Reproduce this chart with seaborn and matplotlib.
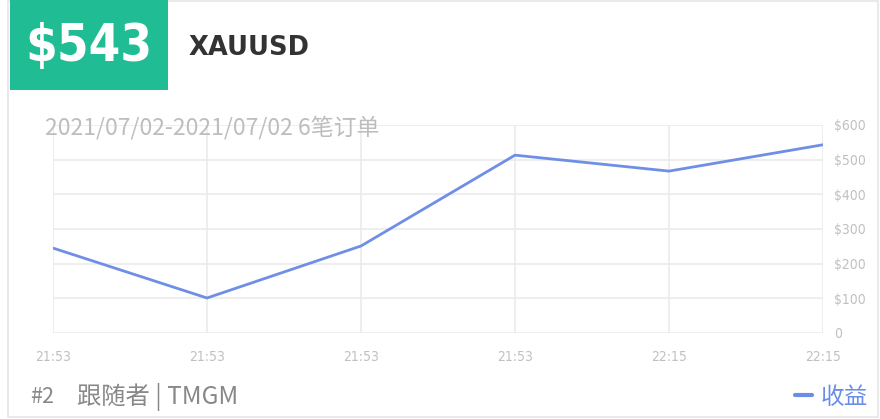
import matplotlib
matplotlib.use('Agg')
import matplotlib.pyplot as plt
import matplotlib.patches as patches
import seaborn as sns
import pandas as pd

# datos del grafico
horas = ['21:53', '21:53', '21:53', '21:53', '22:15', '22:15']
ganancia = [245, 101, 251, 513, 467, 543]
ticks_y = [0, 100, 200, 300, 400, 500, 600]
etiquetas_y = ['0', '$100', '$200', '$300', '$400', '$500', '$600']

sns.set_theme(style='white')
plt.rcParams['font.family'] = ['Noto Sans CJK SC', 'DejaVu Sans']

W, H = 880, 419
fig = plt.figure(figsize=(W / 100, H / 100), dpi=100)


def fx(px):
    return px / W


def fy(py):
    return 1 - py / H


# tarjeta
fig.patches.append(patches.Rectangle((fx(8), fy(417)), fx(870), (417 - 1) / H,
                                     transform=fig.transFigure, fill=False,
                                     edgecolor='#e6e6e6', linewidth=1.2))
fig.patches.append(patches.Rectangle((fx(10), fy(90)), fx(158), 90 / H,
                                     transform=fig.transFigure, facecolor='#20bc94',
                                     edgecolor='none'))

fig.text(fx(89), fy(47), '$543', color='white', fontsize=36.5, fontweight='bold',
         family=['DejaVu Sans'], fontstretch='condensed', ha='center', va='center')
fig.text(fx(189), fy(48), 'XAUUSD', color='#333333', fontsize=18.5, fontweight='bold',
         family=['DejaVu Sans'], ha='left', va='center')

# area del grafico
ax = fig.add_axes([fx(53), fy(333), fx(770), 208 / H])
df = pd.DataFrame({'x': range(len(horas)), 'y': ganancia})
sns.lineplot(data=df, x='x', y='y', ax=ax, color='#6f8fe6', linewidth=2)

ax.set_xlim(0, len(horas) - 1)
ax.set_ylim(0, 600)
ax.set_xticks(range(len(horas)))
ax.set_xticklabels(horas)
ax.set_yticks(ticks_y)
ax.set_yticklabels(etiquetas_y)
ax.yaxis.tick_right()
ax.set_xlabel('')
ax.set_ylabel('')
ax.grid(True, color='#ebebeb', linewidth=1.2)
for s in ax.spines.values():
    s.set_visible(False)
ax.tick_params(axis='both', length=0, colors='#c0c0c0', labelsize=10)
ax.tick_params(axis='x', pad=12)
ax.tick_params(axis='y', pad=8)
for lbl in ax.get_xticklabels() + ax.get_yticklabels():
    lbl.set_family(['DejaVu Sans'])
    lbl.set_fontstretch('condensed')

fig.text(fx(45), fy(128), '2021/07/02-2021/07/02 6笔订单', color='#bdbdbd',
         fontsize=16.5, ha='left', va='center')

# pie
fig.text(fx(30), fy(397), '#2', color='#888888', fontsize=15.5, ha='left', va='center')
fig.text(fx(77), fy(397), '跟随者 | TMGM', color='#888888', fontsize=17.5,
         ha='left', va='center')
fig.lines.append(plt.Line2D([fx(795), fx(812)], [fy(395), fy(395)],
                            transform=fig.transFigure, color='#6a8ee6', linewidth=3))
fig.text(fx(868), fy(397), '收益', color='#6a8ee6', fontsize=17, ha='right', va='center')

fig.savefig('out.png', dpi=100)
